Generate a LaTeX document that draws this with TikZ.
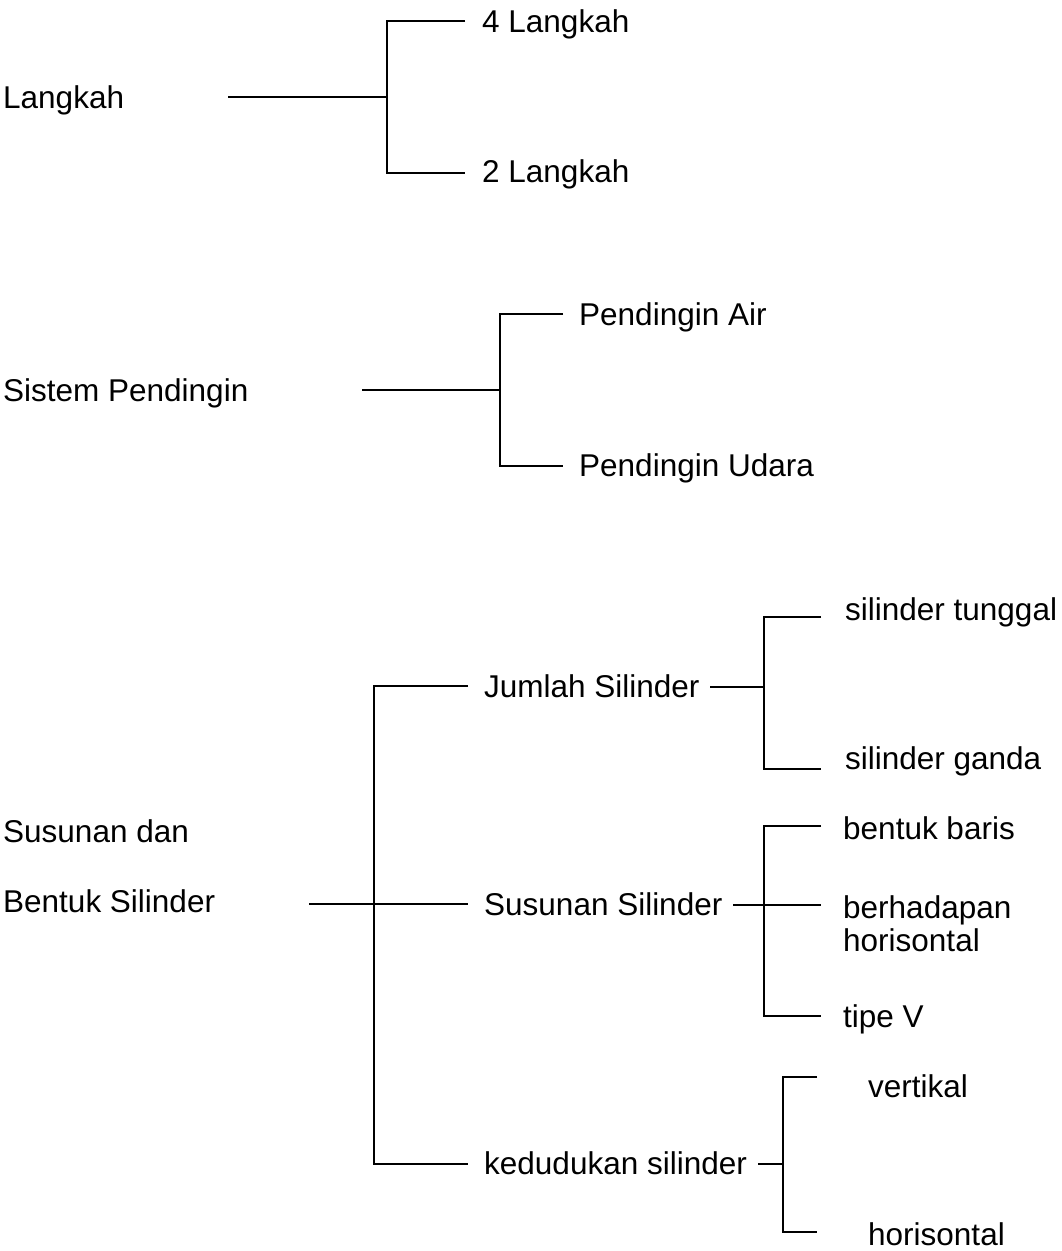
\documentclass[tikz,border=0pt]{standalone}
\usepackage{fontspec}
\setmainfont{Liberation Sans}
\begin{document}
\begin{tikzpicture}[x=1pt,y=-1pt,
  lbl/.style={anchor=base west,inner sep=0pt,font=\fontsize{31.5}{33}\selectfont},
  wire/.style={line width=1.8pt,line join=miter}]
\useasboundingbox (0,0) rectangle (1061,1251);

% ---------- Langkah ----------
\node[lbl] (langkah) at (3,108) {Langkah};
\node[lbl] (l4) at (482,32) {4 Langkah};
\node[lbl] (l2) at (482,182) {2 Langkah};
\coordinate (lk-out) at (228,97);
\coordinate (lk-j) at (387,97);
\coordinate (lk-t) at (387,21);
\coordinate (lk-b) at (387,173);
\coordinate (l4-in) at (465,21);
\coordinate (l2-in) at (465,173);
\draw[wire] (lk-out) -- (lk-j);
\draw[wire] (l4-in) -- (lk-t) -- (lk-b) -- (l2-in);

% ---------- Sistem Pendingin ----------
\node[lbl] (sp) at (3,401) {Sistem Pendingin};
\node[lbl] (air) at (579,325) {Pendingin Air};
\node[lbl] (udara) at (579,476) {Pendingin Udara};
\coordinate (sp-out) at (362,390);
\coordinate (sp-j) at (500,390);
\coordinate (sp-t) at (500,314);
\coordinate (sp-b) at (500,466);
\coordinate (air-in) at (563,314);
\coordinate (udara-in) at (563,466);
\draw[wire] (sp-out) -- (sp-j);
\draw[wire] (air-in) -- (sp-t) -- (sp-b) -- (udara-in);

% ---------- Susunan dan Bentuk Silinder ----------
\node[lbl] (sb1) at (3,842) {Susunan dan};
\node[lbl] (sb2) at (3,912) {Bentuk Silinder};
\coordinate (sb-out) at (309,904);
\coordinate (sb-t) at (374,686);
\coordinate (sb-b) at (374,1164);
\coordinate (js-in) at (468,686);
\coordinate (ss-in) at (468,904);
\coordinate (ks-in) at (468,1164);
\draw[wire] (sb-out) -- (ss-in);
\draw[wire] (js-in) -- (sb-t) -- (sb-b) -- (ks-in);

% Jumlah Silinder
\node[lbl] (js) at (484,697) {Jumlah Silinder};
\node[lbl] (tunggal) at (845,620) {silinder tunggal};
\node[lbl] (ganda) at (845,769) {silinder ganda};
\coordinate (js-out) at (710,687);
\coordinate (js-j) at (764,687);
\coordinate (js-t) at (764,617);
\coordinate (js-b) at (764,769);
\coordinate (tunggal-in) at (821,617);
\coordinate (ganda-in) at (821,769);
\draw[wire] (js-out) -- (js-j);
\draw[wire] (tunggal-in) -- (js-t) -- (js-b) -- (ganda-in);

% Susunan Silinder
\node[lbl] (ss) at (484,915) {Susunan Silinder};
\node[lbl] (baris) at (843,839) {bentuk baris};
\node[lbl] (hadap) at (843,918) {berhadapan};
\node[lbl] (hadap2) at (843,951) {horisontal};
\node[lbl] (tipev) at (843,1027) {tipe V};
\coordinate (ss-out) at (733,905);
\coordinate (ss-t) at (764,826);
\coordinate (ss-b) at (764,1016);
\coordinate (baris-in) at (821,826);
\coordinate (hadap-in) at (821,905);
\coordinate (tipev-in) at (821,1016);
\draw[wire] (ss-out) -- (hadap-in);
\draw[wire] (baris-in) -- (ss-t) -- (ss-b) -- (tipev-in);

% kedudukan silinder
\node[lbl] (ks) at (484,1174) {kedudukan silinder};
\node[lbl] (vert) at (868,1097) {vertikal};
\node[lbl] (hor) at (868,1245) {horisontal};
\coordinate (ks-out) at (758,1164);
\coordinate (ks-j) at (783,1164);
\coordinate (ks-t) at (783,1077);
\coordinate (ks-b) at (783,1232);
\coordinate (vert-in) at (817,1077);
\coordinate (hor-in) at (817,1232);
\draw[wire] (ks-out) -- (ks-j);
\draw[wire] (vert-in) -- (ks-t) -- (ks-b) -- (hor-in);
\end{tikzpicture}
\end{document}
